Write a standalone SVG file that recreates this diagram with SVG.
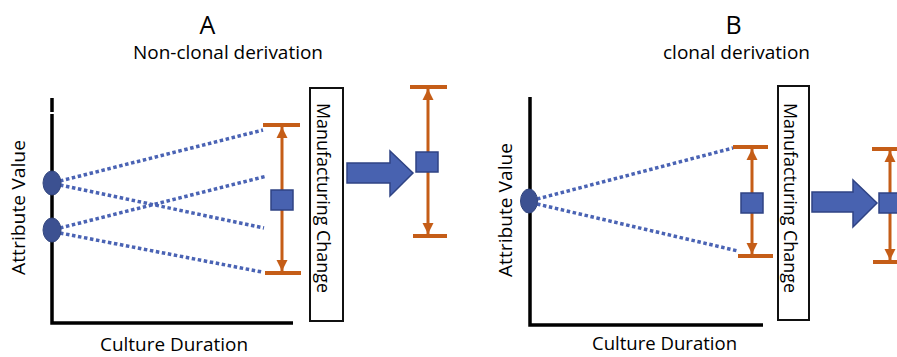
<svg xmlns="http://www.w3.org/2000/svg" width="897" height="357" viewBox="0 0 897 357">
<defs>
<style>
text{font-family:"Open Sans","Noto Sans","Liberation Sans",sans-serif;fill:#000}
.title{font-size:25px}
.sub{font-size:18px}
.lab{font-size:19px}
.axis{stroke:#000;stroke-width:3.5;fill:none}
.dot{stroke:#4a63b4;stroke-width:3.5;stroke-dasharray:3.5 2.6;fill:none}
.pt{fill:#3c5191;stroke:#34477f;stroke-width:1}
.bar{stroke:#c55d17;stroke-width:3;fill:none}
.cap{stroke:#c55d17;stroke-width:4;fill:none}
.sq{fill:#4862b0;stroke:#2f4384;stroke-width:1.5}
.big{fill:#4862b0;stroke:#2f4384;stroke-width:1.5}
.box{fill:#fff;stroke:#111;stroke-width:2}
</style>
<marker id="ah" viewBox="0 0 10 10" refX="10" refY="5" markerWidth="11" markerHeight="12" markerUnits="userSpaceOnUse" orient="auto-start-reverse">
<path d="M0,0 L10,5 L0,10 z" fill="#c55d17"/>
</marker>
</defs>
<rect width="897" height="357" fill="#fff"/>

<g id="panelA-titles">
<text class="title" x="207.5" y="34" text-anchor="middle">A</text>
<text class="sub" x="228" y="59" text-anchor="middle" textLength="190" lengthAdjust="spacingAndGlyphs">Non-clonal derivation</text>
</g>
<g id="panelB-titles">
<text class="title" x="733.5" y="34" text-anchor="middle">B</text>
<text class="sub" x="736.5" y="59" text-anchor="middle" textLength="147" lengthAdjust="spacingAndGlyphs">clonal derivation</text>
</g>

<g id="axesA">
<path class="axis" d="M52,98 V112 M52,114 V323 H293"/>
<text class="lab" transform="translate(25,207.5) rotate(-90)" text-anchor="middle" textLength="135" lengthAdjust="spacingAndGlyphs">Attribute Value</text>
<text class="lab" x="174" y="351" text-anchor="middle" textLength="148" lengthAdjust="spacingAndGlyphs">Culture Duration</text>
</g>
<g id="axesB">
<path class="axis" d="M530,97 V325 H763"/>
<text class="lab" transform="translate(512,210) rotate(-90)" text-anchor="middle" textLength="134" lengthAdjust="spacingAndGlyphs">Attribute Value</text>
<text class="lab" x="664.5" y="350" text-anchor="middle" textLength="145" lengthAdjust="spacingAndGlyphs">Culture Duration</text>
</g>

<g id="connectors">
<line class="dot" x1="60" y1="181" x2="263" y2="130"/>
<line class="dot" x1="60" y1="185" x2="264" y2="228"/>
<line class="dot" x1="60" y1="228" x2="267" y2="176"/>
<line class="dot" x1="60" y1="233" x2="262" y2="272"/>
<line class="dot" x1="537" y1="199" x2="733" y2="148"/>
<line class="dot" x1="537" y1="204" x2="738" y2="251"/>
<path id="bigArrowA" class="big" d="M347,163 H390 V151 L413,173 L390,196 V183 H347 Z"/>
<path id="bigArrowB" class="big" d="M812,192 H853 V180 L877,203 L853,227 V212 H812 Z"/>
</g>

<g id="pointA1"><ellipse class="pt" cx="52" cy="183" rx="9" ry="12"/></g>
<g id="pointA2"><ellipse class="pt" cx="52" cy="230" rx="9" ry="12"/></g>
<g id="pointB1"><ellipse class="pt" cx="529" cy="201" rx="8.5" ry="12"/></g>

<g id="rangeA">
<line class="cap" x1="263" y1="125" x2="300" y2="125"/>
<line class="cap" x1="265" y1="273" x2="301" y2="273"/>
<line class="bar" x1="282" y1="127" x2="282" y2="271" marker-start="url(#ah)" marker-end="url(#ah)"/>
<rect class="sq" x="271" y="190" width="22" height="20"/>
</g>
<g id="rangeA2">
<line class="cap" x1="410" y1="87" x2="447" y2="87"/>
<line class="cap" x1="413" y1="236" x2="447" y2="236"/>
<line class="bar" x1="428" y1="89" x2="428" y2="234" marker-start="url(#ah)" marker-end="url(#ah)"/>
<rect class="sq" x="416" y="152" width="22" height="20"/>
</g>
<g id="rangeB">
<line class="cap" x1="733" y1="147" x2="768" y2="147"/>
<line class="cap" x1="738" y1="256" x2="773" y2="256"/>
<line class="bar" x1="752" y1="149" x2="752" y2="254" marker-start="url(#ah)" marker-end="url(#ah)"/>
<rect class="sq" x="741" y="193" width="22" height="20"/>
</g>
<g id="rangeB2">
<line class="cap" x1="872" y1="149" x2="899" y2="149"/>
<line class="cap" x1="873" y1="262" x2="899" y2="262"/>
<line class="bar" x1="890" y1="151" x2="890" y2="260" marker-start="url(#ah)" marker-end="url(#ah)"/>
<rect class="sq" x="879" y="193" width="22" height="20"/>
</g>

<g id="mfgA">
<rect class="box" x="310" y="88" width="33" height="233"/>
<text class="lab" transform="translate(317,198) rotate(90)" text-anchor="middle" font-size="21" textLength="190" lengthAdjust="spacingAndGlyphs">Manufacturing Change</text>
</g>
<g id="mfgB">
<rect class="box" x="778" y="86" width="31" height="234"/>
<text class="lab" transform="translate(784,198) rotate(90)" text-anchor="middle" font-size="21" textLength="190" lengthAdjust="spacingAndGlyphs">Manufacturing Change</text>
</g>
</svg>
